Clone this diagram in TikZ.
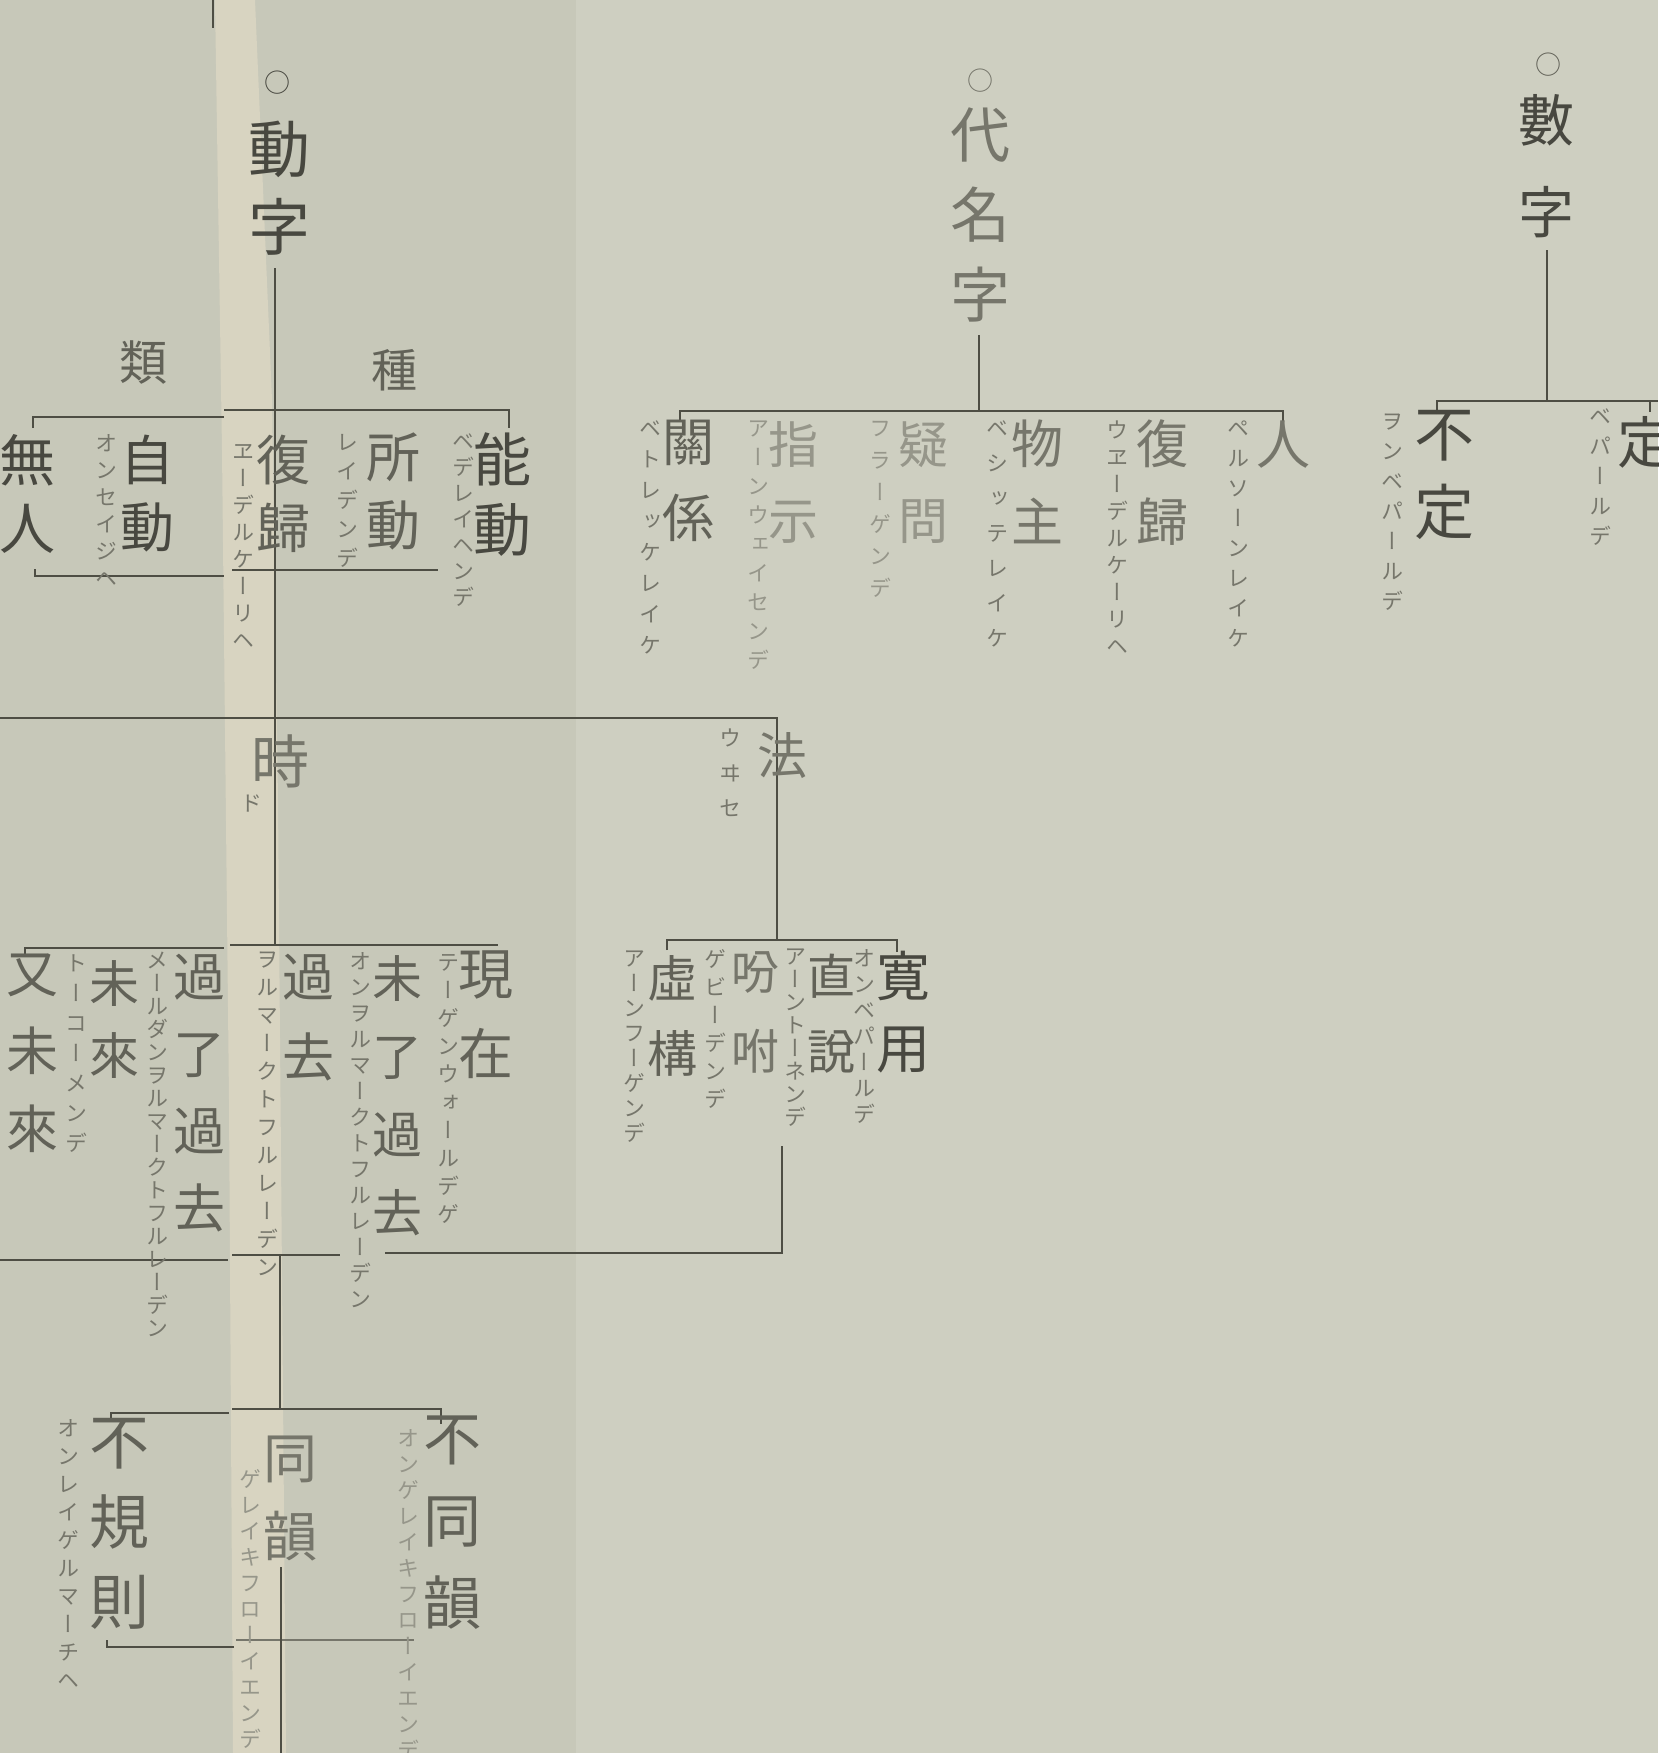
\documentclass[tikz,border=0pt]{standalone}
\usepackage{fontspec}
\setmainfont[RawFeature=+vert]{Noto Sans CJK JP}
\definecolor{paperL}{RGB}{199,200,185}
\definecolor{paperR}{RGB}{206,207,193}
\definecolor{paperS}{RGB}{216,212,193}
\definecolor{ink}{RGB}{78,78,68}
\definecolor{inkD}{RGB}{72,72,64}
\definecolor{inkM}{RGB}{98,98,88}
\definecolor{inkL}{RGB}{118,118,107}
\definecolor{inkF}{RGB}{150,150,138}
\makeatletter
\newcommand\vt[1]{\@tfor\vt@c:=#1\do{\hbox to 1em{\hss\vt@c\hss}}}
\makeatother
\tikzset{
  vc/.style={inner sep=0pt, anchor=north, text=inkM},
  kana/.style={text=inkL},
  ln/.style={draw=ink, line width=2.8pt},
}
\newcommand\vcol[7][]{\node[vc,#1] (#2) at (#3,{#4-#5/2}) {\fontsize{#5pt}{#5pt}\selectfont\vbox{\baselineskip=#6pt\lineskiplimit=-1000pt\relax\vt{#7}}};}
\newcommand\kcol[6][]{\vcol[kana,#1]{#2}{#3}{#4}{22}{#5}{#6}}
\begin{document}
\begin{tikzpicture}[x=1pt,y=-1pt]
\useasboundingbox (0,0) rectangle (1658,1753);
\clip (0,0) rectangle (1658,1753);
% paper
\fill[paperL] (0,0) rectangle (576,1753);
\fill[paperR] (576,0) rectangle (1658,1753);
\fill[paperS] (215,0) -- (255,0) -- (272,400) -- (278,800) -- (286,1753) -- (233,1753) -- (229,1100) -- (222,450) -- cycle;
\draw[ln] (213,0) -- (213,28);
% named points
\coordinate (tA) at (275,268);
\coordinate (tB) at (275,945);
% lines: verb tree
\draw[ln] (tA) -- (tB);
\draw[ln] (33,428) -- (33,417) -- (224,417);
\draw[ln] (224,410) -- (509,410) -- (509,428);
\draw[ln] (35,569) -- (35,576) -- (224,576);
\draw[ln] (232,570) -- (438,570);
\draw[ln] (0,718) -- (777,718) -- (777,940);
\draw[ln] (667,950) -- (667,940) -- (897,940) -- (897,952);
\draw[ln] (25,956) -- (25,948) -- (224,948);
\draw[ln] (230,945) -- (498,945);
\draw[ln] (0,1260) -- (228,1260);
\draw[ln] (232,1255) -- (340,1255);
\draw[ln] (385,1253) -- (782,1253) -- (782,1146);
\draw[ln] (280,1255) -- (280,1409);
\draw[ln] (111,1421) -- (111,1413) -- (229,1413);
\draw[ln] (232,1409) -- (441,1409) -- (441,1424);
\draw[ln] (107,1640) -- (107,1647) -- (234,1647);
\draw[ln,draw=inkL] (236,1640) -- (414,1640);
\draw[ln] (281,1567) -- (281,1753);
% pronoun / numeral
\draw[ln] (979,335) -- (979,411);
\draw[ln] (680,420) -- (680,411) -- (1283,411) -- (1283,423);
\draw[ln] (1547,250) -- (1547,401);
\draw[ln] (1437,414) -- (1437,401) -- (1658,401);
\draw[ln] (1650,401) -- (1650,412);
% ---- text: verb
\vcol[text=inkD]{o1}{277}{84}{26}{30}{○}
\vcol[text=inkD]{doshi}{279}{152}{62}{78}{動字}
\vcol{rui}{143}{365}{48}{48}{類}
\vcol{shu}{394}{372}{46}{46}{種}
\vcol[text=inkD]{mujin}{27}{462}{56}{68}{無人}
\vcol[text=inkD]{jido}{147}{462}{54}{67}{自動}
\kcol{jidok}{106}{445}{27}{オンセイジヘ}
\vcol{fukki}{283}{462}{54}{68}{復歸}
\kcol{fukkik}{243}{455}{27}{ヱーデルケーリヘ}
\vcol{shodo}{393}{460}{54}{68}{所動}
\kcol{shodok}{347}{445}{29}{レイデンデ}
\vcol[text=inkD]{nodo}{502}{462}{58}{70}{能動}
\kcol{nodok}{463}{445}{26}{ベデレイヘンデ}
% ---- pronoun
\vcol[text=inkL]{o2}{980}{82}{26}{30}{○}
\vcol[text=inkL]{daimei}{980}{137}{60}{80}{代名字}
\vcol{kankei}{688}{446}{52}{76}{關係}
\kcol{kankeik}{650}{432}{31}{ベトレッケレイケ}
\vcol[text=inkF]{shiji}{793}{446}{50}{76}{指示}
\kcol[text=inkF]{shijik}{758}{432}{29}{アーンウェイセンデ}
\vcol[text=inkF]{gimon}{923}{446}{50}{76}{疑問}
\kcol[text=inkF]{gimonk}{880}{432}{32}{フラーゲンデ}
\vcol[text=inkL]{butsu}{1037}{446}{52}{78}{物主}
\kcol[text=inkL]{butsuk}{997}{432}{35}{ベシッテレイケ}
\vcol[text=inkL]{fukki2}{1162}{446}{52}{78}{復歸}
\kcol{fukki2k}{1117}{432}{27}{ウヱーデルケーリヘ}
\vcol[text=inkL]{jin}{1283}{448}{54}{54}{人}
\kcol{jink}{1238}{432}{30}{ペルソーンレイケ}
% ---- numeral
\vcol{o3}{1548}{66}{26}{30}{○}
\vcol[text=inkD]{suji}{1546}{122}{56}{92}{數字}
\vcol[text=inkD]{futei}{1444}{440}{60}{78}{不定}
\kcol{futeik}{1392}{425}{30}{ヲンベパールデ}
\vcol[text=inkD]{tei}{1645}{444}{56}{56}{定}
\kcol{teik}{1600}{420}{30}{ベパールデ}
% ---- tense / mood
\vcol[text=inkL]{ji}{280}{764}{58}{58}{時}
\kcol{jik}{251}{806}{21}{ド}
\vcol[text=inkL]{ho}{782}{757}{50}{50}{法}
\kcol{hok}{730}{740}{35}{ウヰセ}
\vcol[text=inkD]{kanyo}{903}{978}{54}{72}{寛用}
\kcol{kanyok}{864}{960}{26}{オンベパールデ}
\vcol{choku}{831}{978}{48}{75}{直說}
\kcol{chokuk}{795}{960}{23}{アーントーネンデ}
\vcol[text=inkL]{funpu}{755}{975}{48}{80}{吩咐}
\kcol{funpuk}{715}{960}{28}{ゲビーデンデ}
\vcol{kyoko}{672}{980}{50}{75}{虛構}
\kcol{kyokok}{634}{962}{25}{アーンフーゲンデ}
\vcol{genzai}{486}{978}{55}{80}{現在}
\kcol{genzaik}{448}{965}{28}{テーゲンウォールデゲ}
\vcol{miryo}{397}{980}{50}{78}{未了過去}
\kcol{miryok}{360}{963}{26}{オンヲルマークトフルレーデン}
\vcol{kako}{308}{980}{52}{80}{過去}
\kcol{kakok}{267}{963}{28}{ヲルマークトフルレーデン}
\vcol{karyo}{199}{980}{52}{77}{過了過去}
\kcol{karyok}{157}{963}{23}{メールダンヲルマークトフルレーデン}
\vcol{mirai}{114}{985}{50}{72}{未來}
\kcol{miraik}{76}{965}{30}{トーコーメンデ}
\vcol{yumirai}{32}{980}{52}{78}{又未來}
% ---- bottom
\vcol{fuki}{119}{1448}{60}{80}{不規則}
\kcol{fukik}{68}{1430}{28}{オンレイゲルマーチヘ}
\vcol[text=inkL]{doin}{290}{1463}{54}{78}{同韻}
\kcol[text=inkF]{doink}{250}{1480}{26}{ゲレイキフローイエンデ}
\vcol{fudoin}{452}{1445}{58}{82}{不同韻}
\kcol[text=inkF]{fudoink}{408}{1440}{26}{オンゲレイキフローイエンデ}
\end{tikzpicture}
\end{document}
